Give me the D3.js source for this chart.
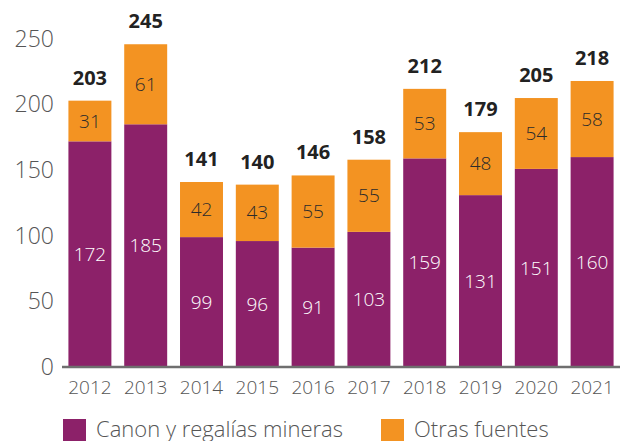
<!DOCTYPE html>
<html>
<head>
<meta charset="utf-8">
<script src="https://cdn.jsdelivr.net/npm/d3@7"></script>
<style>
  body { margin: 0; background: #fff; }
  svg { display: block; font-family: "Open Sans", sans-serif; }
</style>
</head>
<body>
<svg id="chart" width="627" height="441"></svg>
<script>
const years = ["2012","2013","2014","2015","2016","2017","2018","2019","2020","2021"];
const canon = [172, 185, 99, 96, 91, 103, 159, 131, 151, 160];
const otras = [31, 61, 42, 43, 55, 55, 53, 48, 54, 58];
// totals as printed in the source (rounded separately)
const totals = [203, 245, 141, 140, 146, 158, 212, 179, 205, 218];
const yTicks = [0, 50, 100, 150, 200, 250];
const seriesNames = ["Canon y regalías mineras", "Otras fuentes"];
const colors = ["#8c2169", "#f39322"];

const svg = d3.select("#chart");

// scales
const x = d3.scaleBand().domain(years).range([62, 620]).paddingInner(0.23).paddingOuter(0.115);
const y = d3.scaleLinear().domain([0, 250]).range([367, 39]);

// stack the two series
const rows = years.map((yr, i) => ({year: yr, canon: canon[i], otras: otras[i], total: totals[i]}));
const stacked = d3.stack().keys(["canon", "otras"])(rows);

const layers = svg.selectAll("g.layer")
  .data(stacked)
  .join("g")
  .attr("class", "layer")
  .attr("fill", (d, i) => colors[i]);

layers.selectAll("rect")
  .data(d => d)
  .join("rect")
  .attr("x", d => x(d.data.year))
  .attr("width", x.bandwidth())
  .attr("y", d => y(d[1]))
  .attr("height", d => y(d[0]) - y(d[1]));

// labels inside segments
layers.selectAll("text")
  .data(d => d.map(v => ({v, key: d.key})))
  .join("text")
  .attr("x", d => x(d.v.data.year) + x.bandwidth() / 2)
  .attr("y", d => (y(d.v[0]) + y(d.v[1])) / 2)
  .attr("dy", "0.35em")
  .attr("text-anchor", "middle")
  .attr("font-size", 19)
  .attr("font-weight", 300)
  .attr("fill", d => d.key === "canon" ? "#fff" : "#2b2b2b")
  .text(d => d.v.data[d.key]);

// totals above bars
svg.append("g").selectAll("text")
  .data(rows)
  .join("text")
  .attr("x", d => x(d.year) + x.bandwidth() / 2)
  .attr("y", d => y(d.canon + d.otras) - 16)
  .attr("text-anchor", "middle")
  .attr("font-size", 20)
  .attr("font-weight", 700)
  .attr("fill", "#222")
  .text(d => d.total);

// y axis
const yAxis = svg.append("g")
  .attr("transform", "translate(54,0)")
  .call(d3.axisLeft(y).tickValues(yTicks).tickSize(0).tickPadding(0));
yAxis.select(".domain").remove();
yAxis.selectAll("text")
  .attr("font-size", 23)
  .attr("font-family", "Open Sans")
  .attr("font-weight", 300)
  .attr("fill", "#555");

// x axis
const xAxis = svg.append("g")
  .attr("transform", "translate(0,367)")
  .call(d3.axisBottom(x).tickSize(0).tickPadding(14));
xAxis.select(".domain").attr("stroke", "#6f6f6f").attr("stroke-width", 2.5)
  .attr("d", "M0,0H" + (x.range()[1] - 62)).attr("transform", "translate(62,0)");
xAxis.selectAll("text")
  .attr("font-size", 19)
  .attr("font-family", "Open Sans")
  .attr("font-weight", 300)
  .attr("fill", "#555");

// legend
const legend = svg.append("g").selectAll("g")
  .data(seriesNames)
  .join("g")
  .attr("transform", (d, i) => `translate(${i === 0 ? 63 : 381},419)`);
legend.append("rect").attr("width", 23).attr("height", 23).attr("fill", (d, i) => colors[i]);
legend.append("text")
  .attr("x", 33)
  .attr("y", 18)
  .attr("font-size", 22)
  .attr("font-weight", 300)
  .attr("fill", "#555")
  .text(d => d);
</script>
</body>
</html>
